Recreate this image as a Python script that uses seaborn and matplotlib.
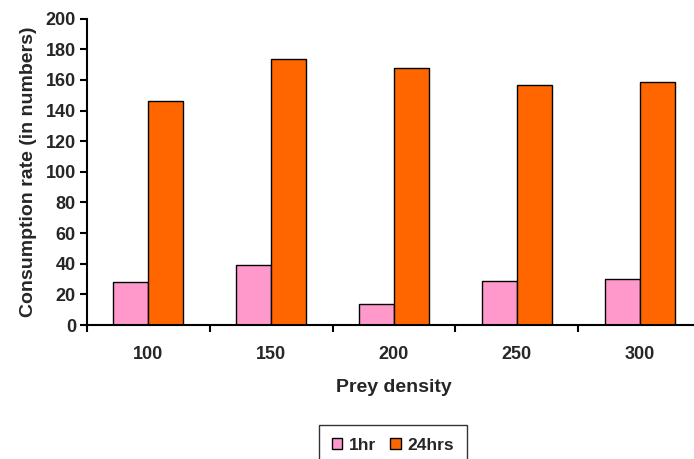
import matplotlib
matplotlib.use("Agg")
import matplotlib.pyplot as plt
import seaborn as sns
import pandas as pd
import numpy as np

categories = ["100", "150", "200", "250", "300"]
hr1 = [28, 39.5, 14, 29, 30]
hr24 = [146.5, 174, 168, 157, 158.5]
series_names = ["1hr", "24hrs"]
colors = ["#FF99CC", "#FF6600"]

df = pd.DataFrame({
    "Prey density": categories * 2,
    "value": hr1 + hr24,
    "series": [series_names[0]] * 5 + [series_names[1]] * 5,
})

sns.set_style("white")
plt.rcParams['font.family'] = ['Liberation Sans', 'DejaVu Sans']
plt.rcParams['font.weight'] = 'bold'

fig = plt.figure(figsize=(6.94, 4.59), dpi=100)
ax = fig.add_axes([87/694, 1-325/459, (694-87)/694 + 0.01, (325-18.7)/459])

sns.barplot(data=df, x="Prey density", y="value", hue="series",
            palette=colors, saturation=1, width=0.57, gap=0, edgecolor="black",
            linewidth=1.0, ax=ax, legend=True)

ax.set_ylim(0, 200)
ax.set_yticks(np.arange(0, 201, 20))
ax.set_xlim(-0.5, 4.5)
ax.set_xticks(np.arange(-0.5, 5, 1))
ax.set_xticklabels([])
ax.set_xticks(np.arange(5), minor=True)
ax.set_xticklabels(categories, minor=True)
ax.tick_params(axis='x', which='major', direction='out', length=5, width=1.5, color='black', bottom=True)
ax.tick_params(axis='x', which='minor', length=0, pad=15, labelsize=13)
ax.tick_params(axis='y', direction='out', length=5, width=1.5, color='black', left=True, labelsize=13, pad=3)
for lab in ax.get_xticklabels(minor=True) + ax.get_yticklabels():
    lab.set_fontweight('bold')

for s in ["top", "right"]:
    ax.spines[s].set_visible(False)
for s in ["left", "bottom"]:
    ax.spines[s].set_color("black")
    ax.spines[s].set_linewidth(1.5)

ax.set_xlabel("Prey density", fontsize=14, fontweight='bold', labelpad=12)
ax.set_ylabel("Consumption rate (in numbers)", fontsize=14, fontweight='bold', labelpad=6)

handles, labels = ax.get_legend_handles_labels()
ax.get_legend().remove()
leg = fig.legend(handles, labels, loc='upper center', bbox_to_anchor=(393/694, 1-425/459),
                 ncol=2, frameon=True, fancybox=False, edgecolor='black',
                 prop={'size': 12.5, 'weight': 'bold'}, handlelength=0.6, handleheight=0.6,
                 handletextpad=0.4, columnspacing=0.8, borderpad=0.75, borderaxespad=0)
leg.get_frame().set_linewidth(1.0)

fig.savefig("out.png", dpi=100)
